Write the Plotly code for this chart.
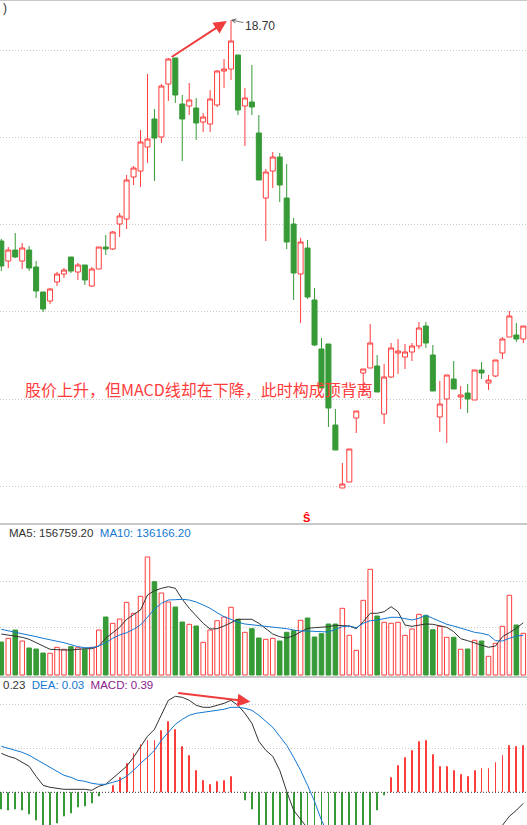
import plotly.graph_objects as go
from plotly.subplots import make_subplots

days = list(range(76))

opens = [16.49, 16.29, 16.40, 16.29, 16.40, 16.23, 15.98, 15.89, 16.08, 16.16,
         16.33, 16.18, 16.25, 16.04, 16.21, 16.43, 16.41, 16.66, 16.71, 17.13,
         17.19, 17.43, 17.71, 17.53, 18.06, 18.32, 17.86, 17.84, 17.82, 17.68,
         17.66, 17.85, 18.19, 18.21, 18.35, 17.84, 17.88, 17.57, 16.92, 17.19,
         17.33, 16.92, 16.66, 16.16, 16.42, 15.90, 15.41, 15.46, 14.65, 14.02,
         14.08, 14.72, 15.17, 15.22, 15.24, 14.76, 15.13, 15.37, 15.33, 15.38,
         15.44, 15.64, 15.35, 14.73, 14.91, 15.11, 14.93, 14.97, 14.90, 15.20,
         15.07, 15.14, 15.37, 15.53, 15.55, 15.51]
closes = [16.24, 16.40, 16.33, 16.42, 16.22, 15.99, 15.81, 16.01, 16.16, 16.20,
          16.19, 16.25, 16.10, 16.21, 16.43, 16.41, 16.58, 16.74, 17.10, 17.22,
          17.48, 17.51, 17.52, 18.04, 18.31, 17.95, 17.71, 17.90, 17.67, 17.73,
          17.91, 18.19, 18.21, 18.49, 17.80, 17.92, 17.83, 17.10, 17.18, 17.33,
          17.05, 16.48, 16.17, 16.48, 15.93, 15.45, 15.02, 14.82, 14.40, 14.06,
          14.41, 14.79, 15.21, 15.47, 14.98, 15.13, 15.42, 15.39, 15.38, 15.44,
          15.62, 15.47, 14.99, 14.86, 15.15, 15.01, 14.95, 14.91, 15.20, 15.17,
          15.10, 15.30, 15.51, 15.74, 15.51, 15.64]
highs = [16.51, 16.43, 16.57, 16.47, 16.44, 16.29, 15.98, 16.02, 16.18, 16.22,
         16.33, 16.27, 16.25, 16.23, 16.43, 16.55, 16.59, 16.77, 17.15, 17.24,
         17.60, 18.16, 17.81, 18.06, 18.32, 18.32, 17.95, 18.07, 17.92, 17.77,
         18.00, 18.20, 18.31, 18.70, 18.35, 18.02, 18.25, 17.75, 17.21, 17.38,
         17.37, 17.26, 16.72, 16.52, 16.50, 16.02, 15.52, 15.46, 14.81, 14.27,
         14.41, 14.79, 15.21, 15.66, 15.35, 15.26, 15.47, 15.51, 15.46, 15.47,
         15.68, 15.68, 15.45, 15.09, 15.15, 15.29, 15.04, 15.06, 15.20, 15.28,
         15.15, 15.30, 15.53, 15.79, 15.67, 15.64]
lows = [16.19, 16.22, 16.32, 16.21, 16.19, 15.92, 15.78, 15.86, 16.04, 16.12,
        16.17, 16.10, 16.05, 16.03, 16.21, 16.35, 16.40, 16.53, 16.61, 17.05,
        17.03, 17.27, 17.09, 17.47, 17.89, 17.87, 17.29, 17.75, 17.50, 17.58,
        17.58, 17.83, 18.02, 18.10, 17.75, 17.44, 17.75, 17.10, 16.49, 17.02,
        16.88, 16.41, 15.90, 15.67, 15.91, 15.44, 15.02, 14.63, 14.40, 14.02,
        14.08, 14.57, 14.97, 15.22, 14.98, 14.66, 15.12, 15.16, 15.21, 15.29,
        15.41, 15.42, 14.99, 14.58, 14.47, 15.01, 14.81, 14.77, 14.90, 15.11,
        15.00, 15.13, 15.31, 15.53, 15.48, 15.47]

volumes = [99000, 110100, 135000, 102000, 81000, 78000, 66000, 65100, 83100, 77100,
           84900, 81900, 77100, 83100, 135000, 174000, 155100, 168000, 218100, 185100,
           236100, 354000, 279900, 246000, 219000, 204000, 159000, 152100, 147000, 98100,
           135000, 162900, 174000, 203100, 167100, 128100, 138900, 111000, 107100, 110100,
           102000, 128100, 132900, 164100, 171000, 114000, 123900, 153000, 153000, 200100,
           119100, 74100, 224100, 317100, 177000, 158100, 155100, 158100, 119100, 138000,
           182100, 179100, 135900, 146100, 113100, 113100, 77100, 78000, 104100, 102000,
           56100, 95100, 146100, 239100, 150000, 125100]
vol_ma5 = [123000, 120000, 117000, 113100, 107100, 98100, 87000, 77100, 75000, 75000,
           75000, 77100, 78900, 78900, 87000, 110100, 126900, 143100, 167100, 180900,
           195000, 240000, 252900, 260100, 264900, 260100, 227100, 200100, 177000, 155100,
           138000, 138900, 147000, 156900, 167100, 167100, 167100, 155100, 138000, 123000,
           114900, 111000, 117900, 129900, 140100, 141900, 143100, 144900, 149100, 149100,
           147000, 138900, 159900, 185100, 185100, 189900, 204900, 189900, 150000, 146100,
           150000, 153000, 152100, 147900, 143100, 129900, 108900, 102900, 96900, 90000,
           83100, 87000, 114900, 126900, 140100, 156900]
vol_ma10 = [137100, 132900, 129000, 125100, 120900, 114900, 110100, 105900, 102900, 96900,
            90900, 84900, 81900, 81900, 87000, 96900, 110100, 120000, 126900, 137100,
            150000, 174900, 197100, 215100, 225000, 225900, 227100, 225000, 219000, 210000,
            200100, 186900, 174900, 167100, 158100, 153000, 150900, 147900, 146100, 144900,
            141900, 138900, 135000, 132000, 132000, 131100, 128100, 129000, 137100, 144900,
            147000, 141900, 155100, 162900, 165000, 168900, 173100, 173100, 168900, 165000,
            170100, 179100, 170100, 159900, 152100, 147000, 140100, 135000, 128100, 125100,
            120000, 102900, 102000, 110100, 117000, 119100]

dif = [0.39, 0.36, 0.34, 0.30, 0.26, 0.16, 0.07, 0.05, 0.04, 0.03,
       0.03, 0.03, 0.03, 0.02, 0.06, 0.08, 0.14, 0.20, 0.26, 0.35,
       0.46, 0.56, 0.63, 0.77, 0.92, 0.96, 0.95, 0.92, 0.87, 0.85,
       0.85, 0.87, 0.89, 0.92, 0.87, 0.79, 0.69, 0.51, 0.42, 0.36,
       0.22, 0.01, -0.18, -0.27, -0.36, -0.47, -0.57, -0.66, -0.72, -0.78,
       -0.84, -0.89, -0.92, -0.93, -0.87, -0.81, -0.72, -0.65, -0.59, -0.53,
       -0.46, -0.42, -0.46, -0.50, -0.48, -0.48, -0.49, -0.49, -0.45, -0.43,
       -0.42, -0.38, -0.33, -0.24, -0.18, -0.11]
dea = [0.46, 0.44, 0.42, 0.40, 0.37, 0.33, 0.29, 0.25, 0.21, 0.17,
       0.15, 0.12, 0.11, 0.09, 0.08, 0.08, 0.10, 0.12, 0.16, 0.22,
       0.29, 0.35, 0.42, 0.52, 0.60, 0.68, 0.73, 0.77, 0.79, 0.80,
       0.81, 0.82, 0.83, 0.85, 0.85, 0.84, 0.82, 0.77, 0.71, 0.65,
       0.56, 0.47, 0.35, 0.22, 0.07, -0.09, -0.28, -0.42, -0.52, -0.60,
       -0.66, -0.71, -0.74, -0.76, -0.78, -0.79, -0.79, -0.78, -0.76, -0.74,
       -0.71, -0.68, -0.65, -0.63, -0.61, -0.59, -0.58, -0.57, -0.56, -0.55,
       -0.54, -0.53, -0.52, -0.48, -0.41, -0.35]
macd = [-0.17, -0.18, -0.17, -0.18, -0.22, -0.28, -0.34, -0.34, -0.31, -0.24,
        -0.21, -0.15, -0.14, -0.11, -0.04, 0.00, 0.07, 0.15, 0.29, 0.39,
        0.48, 0.52, 0.52, 0.62, 0.71, 0.63, 0.46, 0.37, 0.22, 0.12,
        0.08, 0.11, 0.12, 0.16, 0.00, -0.08, -0.17, -0.53, -0.57, -0.59,
        -0.69, -0.93, -1.05, -0.99, -0.87, -0.75, -0.59, -0.48, -0.40, -0.36,
        -0.36, -0.36, -0.35, -0.34, -0.18, -0.03, 0.15, 0.27, 0.35, 0.42,
        0.51, 0.52, 0.38, 0.26, 0.26, 0.22, 0.18, 0.16, 0.22, 0.24,
        0.24, 0.30, 0.37, 0.47, 0.46, 0.47]

RED = '#ff3c3c'
GREEN = '#369a36'
BLUE = '#1478d2'
DARK = '#333333'
GRID = '#c8c8c8'
FONT = 'Liberation Sans'

up = [c >= o for o, c in zip(opens, closes)]

fig = make_subplots(rows=3, cols=1, shared_xaxes=True, vertical_spacing=0)

# K line
fig.add_trace(go.Candlestick(
    x=days, open=opens, high=highs, low=lows, close=closes,
    increasing=dict(line=dict(color=RED, width=1), fillcolor='white'),
    decreasing=dict(line=dict(color=GREEN, width=1), fillcolor=GREEN),
    whiskerwidth=0, showlegend=False, hoverinfo='skip'), row=1, col=1)

# volume + MA5 / MA10
fig.add_trace(go.Bar(
    x=days, y=volumes, width=0.65, showlegend=False, hoverinfo='skip',
    marker=dict(color=['white' if u else GREEN for u in up],
                line=dict(color=[RED if u else GREEN for u in up], width=1))), row=2, col=1)
fig.add_trace(go.Scatter(x=days, y=vol_ma5, mode='lines', showlegend=False,
                         line=dict(color=DARK, width=1)), row=2, col=1)
fig.add_trace(go.Scatter(x=days, y=vol_ma10, mode='lines', showlegend=False,
                         line=dict(color=BLUE, width=1)), row=2, col=1)

# MACD
fig.add_trace(go.Bar(
    x=days, y=macd, width=0.12, showlegend=False, hoverinfo='skip',
    marker=dict(color=[RED if m > 0 else GREEN for m in macd], line=dict(width=0))), row=3, col=1)
fig.add_trace(go.Scatter(x=days, y=dif, mode='lines', showlegend=False,
                         line=dict(color=DARK, width=1)), row=3, col=1)
fig.add_trace(go.Scatter(x=days, y=dea, mode='lines', showlegend=False,
                         line=dict(color=BLUE, width=1)), row=3, col=1)

H = 825.0
def py(px):
    return 1 - px / H

xstyle = dict(range=[-0.19, 75.53], showticklabels=False, showgrid=False, zeroline=False,
              showline=True, mirror=True, linecolor=GRID, linewidth=1, ticks='',
              rangeslider=dict(visible=False))
ystyle = dict(showticklabels=False, zeroline=False, showline=False, ticks='',
              gridcolor=GRID, gridwidth=1, griddash='1px,2px')

fig.update_layout(
    width=527, height=825,
    margin=dict(l=0, r=0, t=0, b=0, autoexpand=False),
    paper_bgcolor='white', plot_bgcolor='white',
    boxgap=0.1, boxgroupgap=0.2,
    xaxis=xstyle, xaxis2=xstyle, xaxis3=xstyle,
    yaxis=dict(ystyle, domain=[py(524), py(1)], range=[13.66, 18.89],
               tick0=18.40, dtick=0.8725),
    yaxis2=dict(ystyle, domain=[py(677), py(524)], range=[-6000, 453000],
                tickvals=[143100, 279900]),
    yaxis3=dict(ystyle, domain=[0, py(677)], range=[-0.327, 1.153],
                tickvals=[0.44, 0.883]),
    hovermode=False,
)

# MACD zero line
fig.add_shape(type='line', xref='x3 domain', yref='y3', x0=0, x1=1, y0=0, y1=0,
              line=dict(color=DARK, width=1, dash='1px,2px'))

hi = max(highs)
hi_day = highs.index(hi)

annotations = [
    dict(xref='paper', yref='paper', x=1 / 527, y=py(8), xanchor='left', yanchor='middle',
         text=')', showarrow=False, font=dict(family=FONT, size=12, color=DARK)),
    dict(xref='x', yref='y', x=hi_day, y=hi, text=f'{hi:.2f}', showarrow=True,
         ax=29, ay=6, arrowhead=5, arrowsize=1, arrowwidth=0.8, arrowcolor='#555555',
         font=dict(family=FONT, size=12, color=DARK)),
    dict(xref='x', yref='y', axref='x', ayref='y', x=32.4, y=18.69, ax=24.25, ay=18.32,
         text='', showarrow=True, arrowhead=2, arrowsize=1.3, arrowwidth=2, arrowcolor='#f03c3c'),
    dict(xref='paper', yref='paper', x=23 / 527, y=py(389), xanchor='left', yanchor='middle',
         text='股价上升，但MACD线却在下降，此时构成顶背离', showarrow=False,
         font=dict(family='Noto Sans CJK SC', size=16, color=RED)),
    dict(xref='paper', yref='paper', x=306 / 527, y=py(518), xanchor='center', yanchor='middle',
         text='<b>Ŝ</b>', showarrow=False, font=dict(family=FONT, size=11, color='#ff0000')),
    dict(xref='paper', yref='paper', x=7 / 527, y=py(533), xanchor='left', yanchor='middle',
         text=f"MA5: 156759.20\u00a0\u00a0<span style='color:{BLUE}'>MA10: 136166.20</span>",
         showarrow=False, font=dict(family=FONT, size=11.5, color=DARK)),
    dict(xref='paper', yref='paper', x=1 / 527, y=py(685), xanchor='left', yanchor='middle',
         text=f"0.23\u00a0\u00a0<span style='color:{BLUE}'>DEA: 0.03</span>"
              f"\u00a0\u00a0<span style='color:#8b1a8b'>MACD: 0.39</span>",
         showarrow=False, font=dict(family=FONT, size=11.5, color=DARK)),
    dict(xref='x3', yref='y3', axref='x3', ayref='y3', x=35.8, y=0.906, ax=25.2, ay=0.996,
         text='', showarrow=True, arrowhead=2, arrowsize=1.3, arrowwidth=2, arrowcolor='#f03c3c'),
]
fig.update_layout(annotations=annotations)

# the page body has a default 8px margin; drop it so the chart sits at the top-left corner
fig.write_html("out.html", config={'displayModeBar': False},
               post_script="document.body.style.margin='0';document.body.style.overflow='hidden';")
